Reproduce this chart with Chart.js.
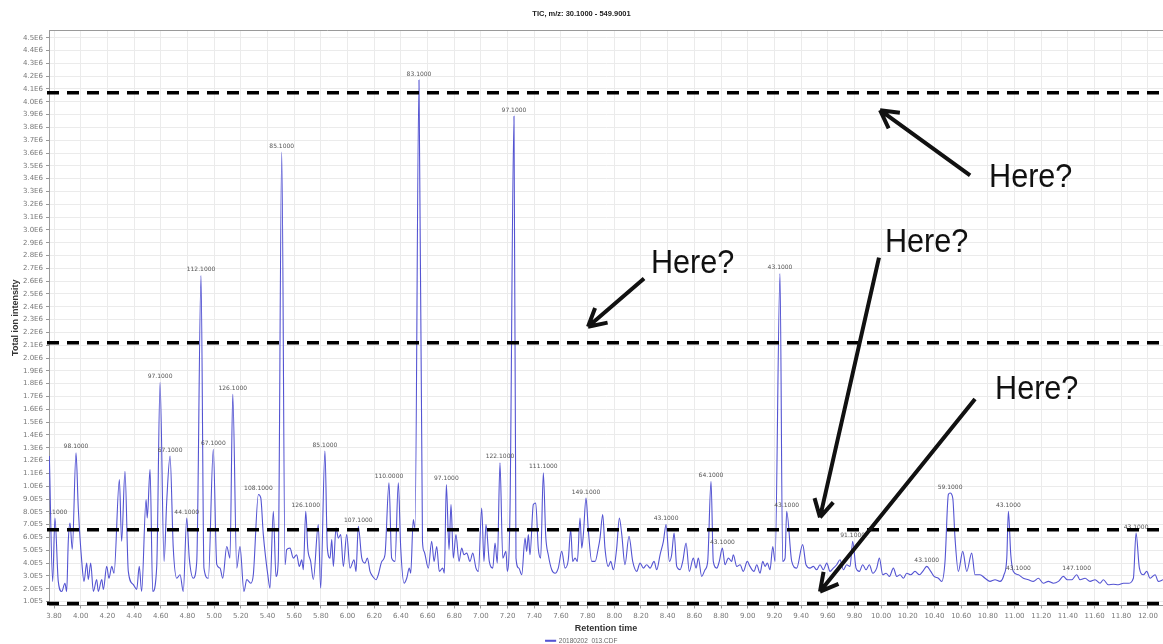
<!DOCTYPE html>
<html>
<head>
<meta charset="utf-8">
<script src="https://cdn.jsdelivr.net/npm/chart.js@4.4.1/dist/chart.umd.min.js"></script>
<style>
  html, body { margin: 0; padding: 0; background: #fff; }
  #wrap { width: 1163px; height: 644px; }
</style>
</head>
<body>
<div id="wrap"><canvas id="tic"></canvas></div>
<script>
// TIC trace (retention time in min, intensity in counts)
const retentionTime = [
  3.765, 3.790, 3.807, 3.832, 3.858, 3.882, 3.895, 3.907, 3.920, 3.937,
  3.965, 3.982, 4.008, 4.025, 4.045, 4.057, 4.075, 4.095, 4.120, 4.132,
  4.158, 4.170, 4.195, 4.212, 4.233, 4.250, 4.290, 4.307, 4.332, 4.357,
  4.394, 4.420, 4.439, 4.457, 4.490, 4.499, 4.520, 4.540, 4.570, 4.595,
  4.625, 4.645, 4.670, 4.694, 4.720, 4.745, 4.769, 4.795, 4.814, 4.844,
  4.870, 4.902, 4.924, 4.957, 4.994, 5.020, 5.044, 5.065, 5.095, 5.119,
  5.140, 5.170, 5.194, 5.224, 5.245, 5.275, 5.294, 5.332, 5.350, 5.369,
  5.406, 5.419, 5.444, 5.464, 5.481, 5.507, 5.532, 5.544, 5.569, 5.594,
  5.619, 5.639, 5.657, 5.669, 5.687, 5.702, 5.724, 5.744, 5.781, 5.799,
  5.831, 5.849, 5.869, 5.882, 5.894, 5.914, 5.931, 5.949, 5.969, 5.994,
  6.019, 6.049, 6.064, 6.081, 6.107, 6.131, 6.149, 6.169, 6.189, 6.214,
  6.231, 6.257, 6.281, 6.311, 6.331, 6.356, 6.381, 6.399, 6.424, 6.444,
  6.463, 6.474, 6.493, 6.506, 6.536, 6.562, 6.574, 6.606, 6.631, 6.649,
  6.669, 6.688, 6.714, 6.726, 6.741, 6.761, 6.776, 6.793, 6.813, 6.836,
  6.856, 6.873, 6.894, 6.918, 6.939, 6.963, 6.981, 7.006, 7.023, 7.038,
  7.063, 7.089, 7.106, 7.123, 7.143, 7.164, 7.188, 7.198, 7.218, 7.248,
  7.263, 7.284, 7.306, 7.331, 7.343, 7.356, 7.368, 7.393, 7.411, 7.430,
  7.448, 7.468, 7.486, 7.505, 7.531, 7.556, 7.580, 7.606, 7.631, 7.655,
  7.673, 7.688, 7.706, 7.723, 7.743, 7.756, 7.768, 7.788, 7.805, 7.831,
  7.856, 7.880, 7.893, 7.913, 7.930, 7.955, 7.973, 7.993, 8.018, 8.038,
  8.056, 8.080, 8.110, 8.138, 8.168, 8.193, 8.218, 8.243, 8.268, 8.298,
  8.318, 8.343, 8.368, 8.388, 8.413, 8.430, 8.448, 8.468, 8.493, 8.513,
  8.538, 8.562, 8.592, 8.613, 8.630, 8.655, 8.680, 8.700, 8.725, 8.742,
  8.768, 8.787, 8.810, 8.830, 8.855, 8.880, 8.892, 8.918, 8.943, 8.967,
  8.997, 9.017, 9.047, 9.068, 9.092, 9.113, 9.130, 9.147, 9.167, 9.188,
  9.205, 9.242, 9.262, 9.280, 9.292, 9.330, 9.367, 9.412, 9.437, 9.467,
  9.492, 9.517, 9.542, 9.567, 9.593, 9.617, 9.642, 9.667, 9.692, 9.717,
  9.742, 9.767, 9.787, 9.812, 9.837, 9.862, 9.887, 9.912, 9.937, 9.967,
  9.987, 10.012, 10.037, 10.062, 10.092, 10.117, 10.142, 10.167, 10.192, 10.222,
  10.254, 10.287, 10.312, 10.342, 10.372, 10.397, 10.429, 10.454, 10.479, 10.504,
  10.517, 10.537, 10.554, 10.579, 10.612, 10.642, 10.679, 10.704, 10.741, 10.779,
  10.816, 10.854, 10.891, 10.921, 10.942, 10.954, 10.972, 10.991, 11.029, 11.066,
  11.104, 11.141, 11.179, 11.216, 11.254, 11.291, 11.329, 11.366, 11.396, 11.429,
  11.466, 11.491, 11.529, 11.566, 11.604, 11.641, 11.666, 11.703, 11.741, 11.778,
  11.816, 11.853, 11.891, 11.911, 11.936, 11.966, 11.991, 12.016, 12.054, 12.078,
  12.113
];
const intensity = [
  1235000, 257000, 752000, 257000, 178000, 243000, 178000, 570000, 713000, 507000,
  1261000, 830000, 413000, 257000, 400000, 272000, 400000, 178000, 272000, 178000,
  272000, 194000, 374000, 282000, 374000, 321000, 1052000, 570000, 1117000, 335000,
  233000, 194000, 374000, 178000, 896000, 752000, 1131000, 178000, 374000, 1808000,
  413000, 883000, 1235000, 517000, 282000, 309000, 178000, 752000, 439000, 282000,
  413000, 2643000, 361000, 282000, 1287000, 390000, 361000, 282000, 530000, 439000,
  1717000, 361000, 530000, 178000, 272000, 243000, 309000, 935000, 908000, 622000,
  282000, 204000, 804000, 296000, 413000, 3608000, 387000, 505000, 517000, 439000,
  465000, 374000, 426000, 348000, 804000, 517000, 413000, 272000, 700000, 204000,
  1274000, 517000, 439000, 583000, 374000, 674000, 595000, 622000, 374000, 622000,
  361000, 426000, 335000, 687000, 439000, 400000, 439000, 335000, 296000, 270000,
  309000, 413000, 465000, 1026000, 439000, 413000, 1026000, 517000, 243000, 282000,
  361000, 321000, 739000, 674000, 4169000, 570000, 491000, 361000, 570000, 413000,
  530000, 335000, 361000, 321000, 1013000, 505000, 857000, 439000, 622000, 413000,
  517000, 465000, 478000, 413000, 478000, 361000, 335000, 830000, 413000, 700000,
  413000, 361000, 556000, 400000, 1182000, 439000, 491000, 335000, 804000, 3887000,
  439000, 361000, 309000, 595000, 491000, 622000, 465000, 857000, 869000, 517000,
  439000, 1104000, 609000, 465000, 348000, 321000, 361000, 491000, 361000, 426000,
  661000, 413000, 439000, 413000, 752000, 517000, 622000, 908000, 661000, 413000,
  413000, 517000, 595000, 778000, 517000, 374000, 413000, 348000, 517000, 752000,
  622000, 387000, 609000, 413000, 335000, 400000, 361000, 387000, 361000, 413000,
  348000, 465000, 570000, 700000, 413000, 465000, 634000, 374000, 348000, 413000,
  556000, 335000, 439000, 361000, 439000, 296000, 348000, 413000, 1039000, 413000,
  361000, 413000, 517000, 387000, 439000, 413000, 465000, 374000, 387000, 335000,
  413000, 374000, 335000, 387000, 321000, 413000, 374000, 400000, 348000, 530000,
  413000, 2659000, 413000, 439000, 804000, 413000, 361000, 544000, 387000, 361000,
  374000, 348000, 387000, 348000, 400000, 335000, 361000, 387000, 426000, 348000,
  387000, 374000, 570000, 361000, 335000, 387000, 348000, 387000, 321000, 361000,
  439000, 309000, 321000, 296000, 361000, 296000, 309000, 282000, 321000, 309000,
  335000, 309000, 335000, 374000, 335000, 296000, 282000, 257000, 413000, 935000,
  947000, 908000, 595000, 335000, 491000, 335000, 478000, 309000, 309000, 282000,
  257000, 270000, 257000, 309000, 439000, 804000, 465000, 335000, 309000, 282000,
  270000, 257000, 282000, 243000, 257000, 243000, 257000, 296000, 270000, 270000,
  309000, 270000, 282000, 257000, 270000, 243000, 270000, 231000, 235000, 231000,
  243000, 243000, 282000, 634000, 361000, 309000, 335000, 282000, 309000, 257000,
  270000
];

// base peak m/z labels shown above peaks
const peakTimes = [3.807, 3.965, 4.595, 4.670, 4.795, 4.902, 4.994, 5.140, 5.332, 5.507,
  5.687, 5.831, 6.081, 6.311, 6.536, 6.741, 7.143, 7.248, 7.468, 7.788,
  8.388, 8.725, 8.810, 9.242, 9.292, 9.787, 10.342, 10.517, 10.954, 11.029,
  11.466, 11.911];
const peakMz = ["81.1000", "98.1000", "97.1000", "67.1000", "44.1000", "112.1000", "67.1000", "126.1000", "108.1000", "85.1000",
  "126.1000", "85.1000", "107.1000", "110.0000", "83.1000", "97.1000", "122.1000", "97.1000", "111.1000", "149.1000",
  "43.1000", "64.1000", "43.1000", "43.1000", "43.1000", "91.1000", "43.1000", "59.1000", "43.1000", "43.1000",
  "147.1000", "43.1000"];

// y tick values 1.0E5 ... 4.5E6
const yTickValues = Array.from({ length: 45 }, (_, i) => (i + 1) * 100000);

// hand-drawn dashed threshold candidates
const thresholdLevels = [4070000, 2120000, 660000, 84000];

// "Here?" notes and their arrows, in data units
const noteText = ["Here?", "Here?", "Here?", "Here?"];
const noteTime = [10.809, 8.275, 10.029, 10.854];
const noteIntensity = [3332000, 2666000, 2831000, 1681000];
const arrowFromTime = [10.667, 8.223, 9.984, 10.704];
const arrowFromIntensity = [3426000, 2620000, 2784000, 1681000];
const arrowToTime = [9.992, 7.803, 9.542, 9.542];
const arrowToIntensity = [3934000, 2244000, 757000, 178000];

function sciLabel(v) {
  if (v >= 1e6) return (v / 1e6).toFixed(1) + "E6";
  return (v / 1e5).toFixed(1) + "E5";
}

function drawArrow(ctx, x0, y0, x1, y1) {
  const ang = Math.atan2(y1 - y0, x1 - x0);
  ctx.beginPath();
  ctx.moveTo(x0, y0);
  ctx.lineTo(x1, y1);
  for (const d of [-0.5, 0.5]) {
    ctx.moveTo(x1, y1);
    ctx.lineTo(x1 - 20 * Math.cos(ang + d), y1 - 20 * Math.sin(ang + d));
  }
  ctx.stroke();
}

const overlay = {
  id: "overlay",
  afterDatasetsDraw(chart) {
    const { ctx, chartArea: a, scales: { x, y } } = chart;

    ctx.save();
    // top frame line
    ctx.strokeStyle = "#9a9a9a";
    ctx.lineWidth = 1;
    ctx.beginPath();
    ctx.moveTo(a.left, a.top + 0.5);
    ctx.lineTo(a.right, a.top + 0.5);
    ctx.stroke();

    ctx.beginPath();
    ctx.rect(a.left, a.top, a.right - a.left, a.bottom - a.top);
    ctx.clip();

    // peak labels
    ctx.font = "6px 'DejaVu Sans'";
    ctx.fillStyle = "#555";
    ctx.textAlign = "center";
    ctx.textBaseline = "bottom";
    peakTimes.forEach((t, i) => {
      let k = 0;
      retentionTime.forEach((rt, j) => {
        if (Math.abs(rt - t) < Math.abs(retentionTime[k] - t)) k = j;
      });
      ctx.fillText(peakMz[i], x.getPixelForValue(retentionTime[k]), y.getPixelForValue(intensity[k]) - 3);
    });
    ctx.restore();

    // dashed threshold lines
    ctx.save();
    ctx.strokeStyle = "#000";
    ctx.lineWidth = 3.5;
    ctx.setLineDash([12, 8]);
    thresholdLevels.forEach(v => {
      const py = y.getPixelForValue(v);
      ctx.beginPath();
      ctx.moveTo(a.left - 2, py);
      ctx.lineTo(a.right, py);
      ctx.stroke();
    });
    ctx.restore();

    // arrows and notes
    ctx.save();
    ctx.strokeStyle = "#111";
    ctx.lineWidth = 4;
    arrowFromTime.forEach((t, i) => {
      drawArrow(ctx,
        x.getPixelForValue(t), y.getPixelForValue(arrowFromIntensity[i]),
        x.getPixelForValue(arrowToTime[i]), y.getPixelForValue(arrowToIntensity[i]));
    });
    ctx.fillStyle = "#111";
    ctx.font = "34px 'Liberation Sans'";
    ctx.textAlign = "left";
    ctx.textBaseline = "alphabetic";
    noteText.forEach((txt, i) => {
      ctx.save();
      ctx.translate(x.getPixelForValue(noteTime[i]), y.getPixelForValue(noteIntensity[i]));
      ctx.scale(0.9, 1);
      ctx.fillText(txt, 0, 0);
      ctx.restore();
    });
    ctx.restore();
  }
};

const tickFont = { family: "DejaVu Sans", size: 7 };
const axisTitleFont = { family: "Liberation Sans", size: 9, weight: "bold" };

new Chart(document.getElementById("tic"), {
  type: "line",
  data: {
    datasets: [{
      label: "20180202_013.CDF",
      data: retentionTime.map((t, i) => ({ x: t, y: intensity[i] })),
      borderColor: "rgb(84, 84, 210)",
      backgroundColor: "rgb(84, 84, 210)",
      borderWidth: 1.1,
      pointRadius: 0,
      cubicInterpolationMode: "monotone",
      fill: false,
    }],
  },
  options: {
    responsive: true,
    maintainAspectRatio: false,
    animation: false,
    layout: { padding: { top: 0, left: 0, right: 0, bottom: -10 } },
    plugins: {
      title: {
        display: true,
        text: "TIC, m/z: 30.1000 - 549.9001",
        color: "#222",
        font: { family: "Liberation Sans", size: 7.5, weight: "bold" },
        padding: { top: 9, bottom: 12 },
      },
      legend: {
        position: "bottom",
        labels: {
          color: "#666",
          font: { family: "Liberation Sans", size: 6.5 },
          boxWidth: 10,
          boxHeight: 1,
          padding: 2,
        },
      },
      tooltip: { enabled: false },
    },
    scales: {
      x: {
        type: "linear",
        min: 3.7625,
        max: 12.113,
        afterFit: s => { s.height = 30; },
        ticks: {
          stepSize: 0.2,
          includeBounds: false,
          autoSkip: false,
          maxRotation: 0,
          padding: 3,
          color: "#777",
          font: tickFont,
          callback: v => v.toFixed(2),
        },
        grid: { color: "#ebebeb", tickLength: 3, tickColor: "#999" },
        border: { color: "#999" },
        title: {
          display: true,
          text: "Retention time",
          color: "#333",
          font: axisTitleFont,
          padding: { top: 0, bottom: 2 },
        },
      },
      y: {
        min: 69000,
        max: 4560000,
        afterFit: s => { s.width = 49; },
        afterBuildTicks: s => { s.ticks = yTickValues.map(v => ({ value: v })); },
        ticks: {
          autoSkip: false,
          padding: 3,
          color: "#777",
          font: tickFont,
          callback: v => sciLabel(v),
        },
        grid: { color: "#ebebeb", tickLength: 3, tickColor: "#999" },
        border: { color: "#999" },
        title: {
          display: true,
          text: "Total ion intensity",
          color: "#333",
          font: axisTitleFont,
          padding: { top: 10, bottom: 0 },
        },
      },
    },
  },
  plugins: [overlay],
});
</script>
</body>
</html>
